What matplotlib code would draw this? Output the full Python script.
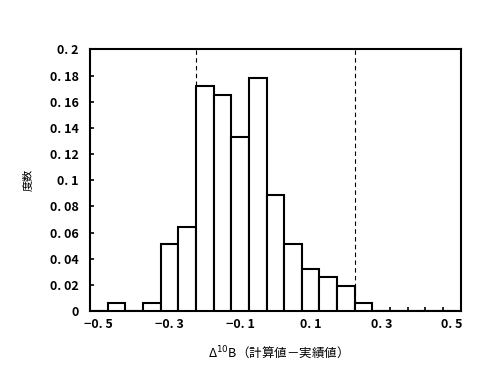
import matplotlib
matplotlib.use("Agg")
import matplotlib.pyplot as plt
import numpy as np

plt.rcParams['font.family'] = ['Noto Sans CJK JP', 'DejaVu Sans']
plt.rcParams['mathtext.fontset'] = 'dejavusans'

# bin centres (width 0.05) and relative frequency
bin_centers = [-0.5, -0.45, -0.4, -0.35, -0.3, -0.25, -0.2, -0.15, -0.1, -0.05, 0.0,
               0.05, 0.1, 0.15, 0.2, 0.25, 0.3, 0.35, 0.4, 0.45, 0.5]
freq = [0, 0.006, 0, 0.006, 0.051, 0.064, 0.172, 0.165, 0.133, 0.178, 0.089,
        0.051, 0.032, 0.026, 0.019, 0.006, 0, 0, 0, 0, 0]
limits = [-0.225, 0.225]

xticklabels = ["-0.5", "-0.3", "-0.1", "0.1", "0.3", "0.5"]
yticks = [0, 0.02, 0.04, 0.06, 0.08, 0.1, 0.12, 0.14, 0.16, 0.18, 0.2]

fig = plt.figure(figsize=(4.97, 3.83), dpi=100)
ax = fig.add_axes([0.181, 0.188, 0.746, 0.683])

lw = 1.5
ax.bar(bin_centers, freq, width=0.05, color="white", edgecolor="black",
       linewidth=lw, zorder=3)
for v in limits:
    ax.axvline(v, color="black", linestyle=(0, (4, 3)), linewidth=0.8, zorder=2)

ax.set_xlim(-0.525, 0.525)
ax.set_ylim(0, 0.2)

# labels under every 4th bin, ticks at bin edges
ax.set_xticks(np.arange(-0.5, 0.51, 0.2))
ax.set_xticklabels([t.replace(".", ". ").replace("-", "\u2212") for t in xticklabels],
                   fontsize=9, fontweight="bold")
ax.tick_params(axis="x", length=0, pad=5)
ax.set_xticks(np.arange(-0.475, 0.5, 0.05), minor=True)
ax.tick_params(axis="x", which="minor", direction="in", length=3, width=1.2)

ax.set_yticks(yticks)
ax.set_yticklabels(["0" if t == 0 else f"{t:g}".replace(".", ". ") for t in yticks],
                   fontsize=9, fontweight="bold")
ax.tick_params(axis="y", direction="in", length=3, width=1.2, pad=8)

for s in ax.spines.values():
    s.set_linewidth(lw)

ax.set_ylabel("度数", fontsize=8, labelpad=12)
ax.set_xlabel("Δ$^{10}$B（計算値－実績値）", fontsize=9, labelpad=10)

fig.savefig("out.png", dpi=100)
